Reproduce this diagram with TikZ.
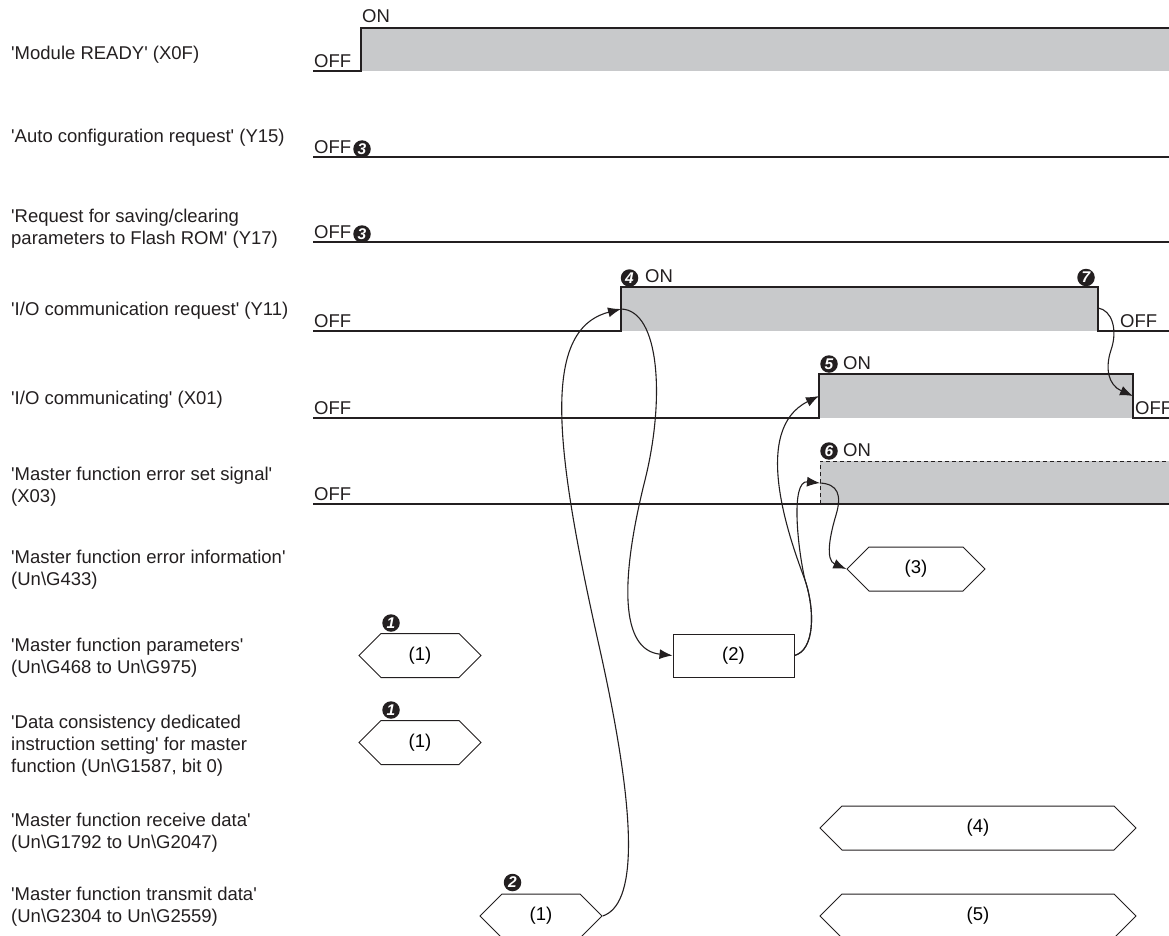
\documentclass[tikz,border=0pt]{standalone}
\usepackage{fontspec}
\setmainfont{Liberation Sans}
\usepackage{xcolor}
\usetikzlibrary{arrows.meta,shapes.symbols}
\definecolor{ongray}{RGB}{200,201,203}
\definecolor{ink}{RGB}{35,31,32}
\newcommand{\tq}{\textquotesingle}
\newcommand{\bsl}{\textbackslash}
\tikzset{
  sig/.style={draw=ink,line width=1.3pt},
  onarea/.style={fill=ongray},
  txt/.style={inner sep=0pt,anchor=base west,align=left,text=ink,font=\fontsize{18.5}{22}\selectfont},
  hexbox/.style={draw=ink,line width=1pt,signal,signal to=east and west,minimum height=44pt,inner sep=0pt,font=\fontsize{18.5}{22}\selectfont},
  parbox/.style={draw=ink,line width=1pt,minimum width=121pt,minimum height=43pt,inner sep=0pt,font=\fontsize{18.5}{22}\selectfont},
  numdot/.style={circle,fill=ink,text=white,inner sep=0pt,minimum size=17.5pt,font=\fontsize{15.5}{15.5}\selectfont\bfseries\itshape},
  flow/.style={draw=ink,line width=1.1pt,-{Latex[length=13pt,width=10pt]}}
}
\begin{document}
\begin{tikzpicture}[x=1pt,y=-1pt]
\useasboundingbox (0,0) rectangle (1169,936);
\node[txt] (l1) at (11,60) {\tq Module READY\tq{} (X0F)};
\node[txt] (l2) at (11,143) {\tq Auto configuration request\tq{} (Y15)};
\node[txt] (l3) at (11,244) {\tq Request for saving/clearing\\parameters to Flash ROM\tq{} (Y17)};
\node[txt] (l4) at (11,315) {\tq I/O communication request\tq{} (Y11)};
\node[txt] (l5) at (11,404) {\tq I/O communicating\tq{} (X01)};
\node[txt] (l6) at (11,502) {\tq Master function error set signal\tq\\(X03)};
\node[txt] (l7) at (11,585) {\tq Master function error information\tq\\(Un\bsl G433)};
\node[txt] (l8) at (11,673) {\tq Master function parameters\tq\\(Un\bsl G468 to Un\bsl G975)};
\node[txt] (l9) at (11,772) {\tq Data consistency dedicated\\instruction setting\tq{} for master\\function (Un\bsl G1587, bit 0)};
\node[txt] (l10) at (11,848) {\tq Master function receive data\tq\\(Un\bsl G1792 to Un\bsl G2047)};
\node[txt] (l11) at (11,922) {\tq Master function transmit data\tq\\(Un\bsl G2304 to Un\bsl G2559)};

\fill[onarea] (361,28) rectangle (1169,71);
\draw[sig] (313,71) -- (361,71) -- (361,28) -- (1169,28);
\node[txt] (off1) at (314,67.5) {OFF};
\node[txt] (on1) at (362,23) {ON};

\draw[sig] (313,157) -- (1169,157);
\node[txt] (off2) at (314,153.5) {OFF};
\node[numdot] (n3a) at (362,149) {3};

\draw[sig] (313,242) -- (1169,242);
\node[txt] (off3) at (314,238.5) {OFF};
\node[numdot] (n3b) at (362,234) {3};

\fill[onarea] (621,287) rectangle (1098,331);
\draw[sig] (313,331) -- (621,331) -- (621,287) -- (1098,287) -- (1098,331) -- (1169,331);
\node[txt] (off4) at (314,327.5) {OFF};
\node[numdot] (n4) at (629.5,278) {4};
\node[txt] (on4) at (645,282) {ON};
\node[numdot] (n7) at (1086,277.5) {7};
\node[txt] (off4b) at (1120,327) {OFF};

\fill[onarea] (819,374) rectangle (1133,418);
\draw[sig] (313,418) -- (819,418) -- (819,374) -- (1133,374) -- (1133,418) -- (1169,418);
\node[txt] (off5) at (314,414) {OFF};
\node[numdot] (n5) at (829,364) {5};
\node[txt] (on5) at (843,369) {ON};
\node[txt] (off5b) at (1135,414) {OFF};

\fill[onarea] (820,461) rectangle (1169,504);
\draw[sig] (313,504) -- (1169,504);
\draw[sig,line width=1pt,dash pattern=on 4pt off 3pt] (820,504) -- (820,461) -- (1169,461);
\node[txt] (off6) at (314,500.5) {OFF};
\node[numdot] (n6) at (829,451) {6};
\node[txt] (on6) at (843,456) {ON};

\node[hexbox,minimum width=138pt] (einfo) at (916,569) {(3)};
\node[hexbox,minimum width=122pt] (parhex) at (420,655.5) {(1)};
\node[numdot] (n1a) at (391,623) {1};
\node[parbox] (par) at (733.5,655.5) {(2)};
\node[hexbox,minimum width=122pt] (dcs) at (420,742.5) {(1)};
\node[numdot] (n1b) at (391,710) {1};
\node[hexbox,minimum width=316pt] (rxd) at (978,828) {(4)};
\node[hexbox,minimum width=122pt] (txd) at (541,916) {(1)};
\node[numdot] (n2) at (512.5,882.5) {2};
\node[hexbox,minimum width=316pt] (txdm) at (978,916) {(5)};

\coordinate (reqon) at (621,309);
\coordinate (comon) at (819,396);
\coordinate (erron) at (820,483);
\coordinate (reqoff) at (1098,308);
\coordinate (comoff) at (1133,396);

\draw[flow] (txd.east) .. controls (635,905) and (640,830) .. (600,650) .. controls (555,450) and (540,330) .. (reqon);
\draw[flow] (reqon) .. controls (660,310) and (665,400) .. (645,480) .. controls (620,580) and (620,650) .. (par.west);
\draw[flow] (par.east) .. controls (815,650) and (815,610) .. (805,580) .. controls (790,540) and (750,430) .. (comon);
\draw[flow] (par.east) .. controls (815,650) and (815,610) .. (805,580) .. controls (798,550) and (790,480) .. (erron);
\draw[flow] (erron) .. controls (838,484) and (842,495) .. (836,515) .. controls (830,535) and (825,560) .. (einfo.west);
\draw[flow] (reqoff) .. controls (1112,310) and (1118,330) .. (1111,350) .. controls (1105,368) and (1108,385) .. (comoff);
\end{tikzpicture}
\end{document}
